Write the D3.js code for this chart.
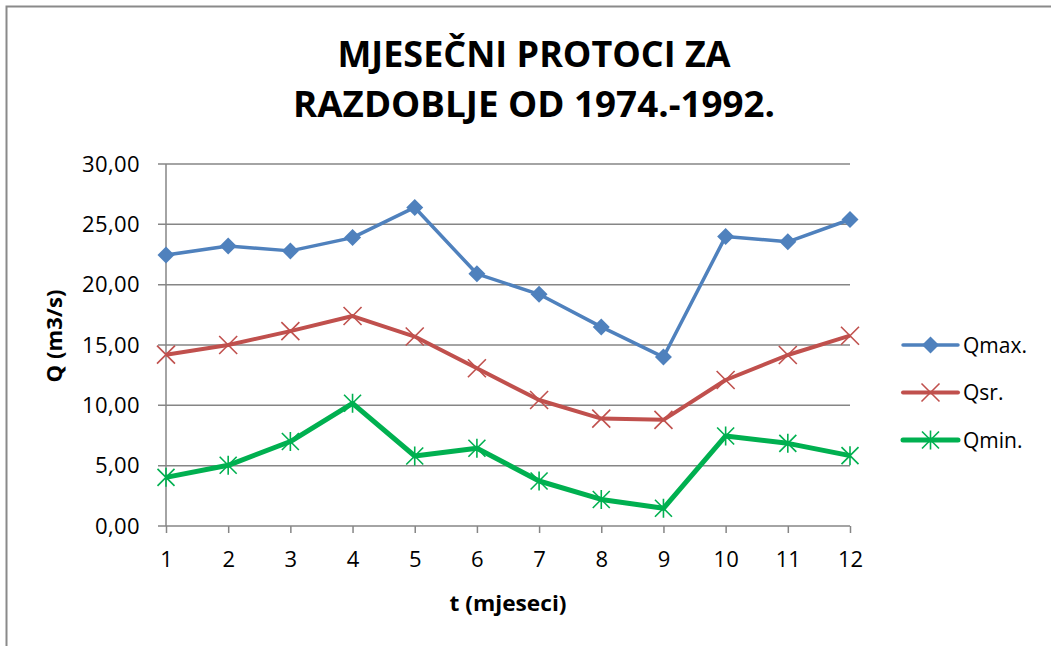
<!DOCTYPE html>
<html>
<head>
<meta charset="utf-8">
<script src="https://cdn.jsdelivr.net/npm/d3@7"></script>
<style>
body { margin:0; background:#fff; }
svg { display:block; font-family:"Open Sans", sans-serif; }
</style>
</head>
<body>
<svg id="chart"></svg>
<script>
// months on the x axis
var months = [1,2,3,4,5,6,7,8,9,10,11,12];
// series values (m3/s)
var qMax = [22.45,23.2,22.8,23.9,26.4,20.9,19.2,16.5,14.0,24.0,23.55,25.4];
var qSr  = [14.2,15.0,16.15,17.4,15.7,13.07,10.44,8.9,8.8,12.1,14.17,15.77];
var qMin = [4.03,5.03,7.0,10.17,5.8,6.44,3.73,2.2,1.47,7.46,6.85,5.83];
var seriesNames = ["Qmax.","Qsr.","Qmin."];
var yTicks = [0,5,10,15,20,25,30];
var titleLines = ["MJESEČNI PROTOCI ZA","RAZDOBLJE OD 1974.-1992."];

var screen = {width:1051,height:646};
var margins = {left:166,top:164,right:201,bottom:120};
var graph = {
    width:screen.width-margins.left-margins.right,
    height:screen.height-margins.top-margins.bottom
};

var series = [
    {name:seriesNames[0],values:qMax,color:"#4F81BD",width:3.5,marker:"diamond"},
    {name:seriesNames[1],values:qSr, color:"#C0504D",width:4,  marker:"cross"},
    {name:seriesNames[2],values:qMin,color:"#00B050",width:5,  marker:"star"}
];

var svg = d3.select("#chart")
    .attr("width",screen.width)
    .attr("height",screen.height);

// chart area border (only top and left show in the crop)
svg.append("rect")
    .attr("x",6.5).attr("y",6.5)
    .attr("width",screen.width+20).attr("height",screen.height+20)
    .attr("fill","none")
    .attr("stroke","#8a8a8a")
    .attr("stroke-width",2);

var xScale = d3.scaleLinear()
    .domain([1,12])
    .range([0,graph.width]);
var yScale = d3.scaleLinear()
    .domain([0,30])
    .range([graph.height,0]);

var target = svg.append("g")
    .attr("transform","translate("+margins.left+","+margins.top+")");

// gridlines
target.append("g")
    .selectAll("line")
    .data(yTicks)
    .enter()
    .append("line")
    .attr("x1",-8)
    .attr("x2",graph.width)
    .attr("y1",function(d){return yScale(d);})
    .attr("y2",function(d){return yScale(d);})
    .attr("stroke","#868686")
    .attr("stroke-width",1.5);

var fmt = function(d){ return d3.format(".2f")(d).replace(".",","); };

var yAxis = d3.axisLeft(yScale)
    .tickValues(yTicks)
    .tickSize(0)
    .tickPadding(26)
    .tickFormat(fmt);
var yg = target.append("g").call(yAxis);
yg.select(".domain").remove();
yg.selectAll("text")
    .attr("font-size",22)
    .attr("fill","#000")
    .attr("font-family","'Open Sans', sans-serif")
    .attr("letter-spacing",0.4);

// y axis line
target.append("line")
    .attr("x1",0).attr("x2",0)
    .attr("y1",0).attr("y2",graph.height)
    .attr("stroke","#868686")
    .attr("stroke-width",1.5);

var xAxis = d3.axisBottom(xScale)
    .tickValues(months)
    .tickSize(7)
    .tickPadding(18)
    .tickFormat(d3.format("d"));
var xg = target.append("g")
    .attr("transform","translate(0,"+graph.height+")")
    .call(xAxis);
xg.select(".domain").remove();
xg.selectAll("line")
    .attr("stroke","#868686")
    .attr("stroke-width",1.5);
xg.selectAll("text")
    .attr("font-size",22)
    .attr("fill","#000")
    .attr("font-family","'Open Sans', sans-serif");

// marker shapes
var drawMarker = function(sel,kind,color)
{
    if (kind=="diamond") {
        sel.append("path")
            .attr("d","M0,-8.5L8.5,0L0,8.5L-8.5,0Z")
            .attr("fill",color);
    } else {
        var s = kind=="cross" ? 9 : 8.5;
        var d = "M"+(-s)+","+(-s)+"L"+s+","+s+"M"+(-s)+","+s+"L"+s+","+(-s);
        if (kind=="star") d += "M0,"+(-s-1)+"L0,"+(s+1);
        sel.append("path")
            .attr("d",d)
            .attr("stroke",color)
            .attr("stroke-width",1.6)
            .attr("fill","none");
    }
}

var lineGenerator = d3.line()
    .x(function(v,i){ return xScale(months[i]); })
    .y(function(v){ return yScale(v); });

var lines = target.selectAll(".series")
    .data(series)
    .enter()
    .append("g")
    .classed("series",true);

lines.append("path")
    .attr("d",function(s){ return lineGenerator(s.values); })
    .attr("fill","none")
    .attr("stroke",function(s){ return s.color; })
    .attr("stroke-width",function(s){ return s.width; })
    .attr("stroke-linejoin","round");

lines.each(function(s)
{
    d3.select(this).selectAll(".pt")
        .data(s.values)
        .enter()
        .append("g")
        .attr("transform",function(v,i){
            return "translate("+xScale(months[i])+","+yScale(v)+")";
        })
        .each(function(){ drawMarker(d3.select(this),s.marker,s.color); });
});

// legend
var legend = svg.append("g")
    .attr("transform","translate(903,345)");
var items = legend.selectAll("g")
    .data(series)
    .enter()
    .append("g")
    .attr("transform",function(s,i){ return "translate(0,"+(i*47.5)+")"; });
items.append("line")
    .attr("x1",0).attr("x2",55)
    .attr("stroke",function(s){ return s.color; })
    .attr("stroke-width",function(s){ return s.width; })
    .attr("stroke-linecap","round");
items.each(function(s)
{
    var m = d3.select(this).append("g").attr("transform","translate(27.5,0)");
    drawMarker(m,s.marker,s.color);
});
items.append("text")
    .attr("x",60)
    .attr("y",7.5)
    .attr("font-size",21)
    .text(function(s){ return s.name; });

// titles
var labels = svg.append("g");
labels.selectAll(".title")
    .data(titleLines)
    .enter()
    .append("text")
    .attr("x",534)
    .attr("y",function(d,i){ return 67+i*50; })
    .attr("text-anchor","middle")
    .attr("font-size",35)
    .attr("font-weight","bold")
    .attr("textLength",function(d,i){ return i==0 ? 393 : 482; })
    .attr("lengthAdjust","spacingAndGlyphs")
    .text(function(d){ return d; });

labels.append("text")
    .attr("x",margins.left+graph.width/2)
    .attr("y",611)
    .attr("text-anchor","middle")
    .attr("font-size",21)
    .attr("font-weight","bold")
    .attr("textLength",117)
    .attr("lengthAdjust","spacingAndGlyphs")
    .text("t (mjeseci)");

labels.append("text")
    .attr("transform","translate(62,336) rotate(-90)")
    .attr("text-anchor","middle")
    .attr("font-size",21)
    .attr("font-weight","bold")
    .attr("textLength",93)
    .attr("lengthAdjust","spacingAndGlyphs")
    .text("Q  (m3/s)");
</script>
</body>
</html>
